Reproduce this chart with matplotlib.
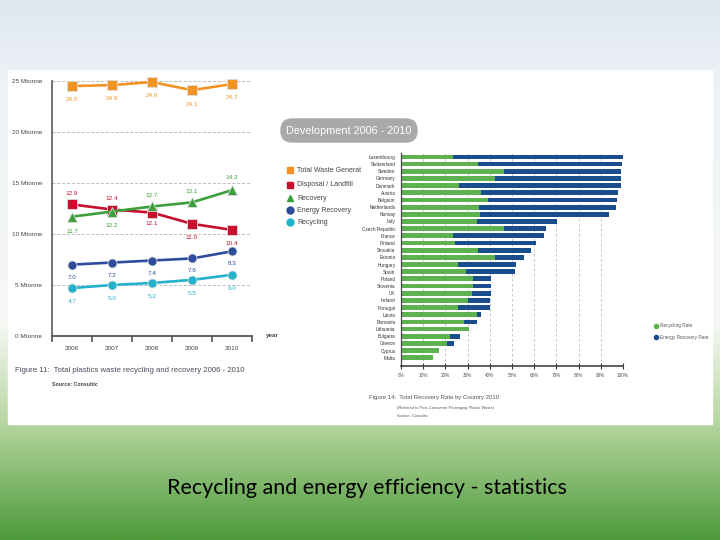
import numpy as np
import matplotlib
matplotlib.use('Agg')
import matplotlib.pyplot as plt
from matplotlib.patches import FancyBboxPatch, Rectangle
from matplotlib.colors import LinearSegmentedColormap

plt.rcParams['font.family'] = ['Liberation Sans', 'DejaVu Sans']

W, H = 720, 540

# line chart data (Mtonne)
years = ['2006', '2007', '2008', '2009', '2010']
total_waste = [24.5, 24.6, 24.9, 24.1, 24.7]
landfill = [12.9, 12.4, 12.1, 11.0, 10.4]
recovery = [11.7, 12.2, 12.7, 13.1, 14.3]
energy_rec = [7.0, 7.2, 7.4, 7.6, 8.3]
recycling = [4.7, 5.0, 5.2, 5.5, 6.0]

# bar chart data (%)
countries = ['Luxembourg', 'Switzerland', 'Sweden', 'Germany', 'Denmark', 'Austria',
             'Belgium', 'Netherlands', 'Norway', 'Italy', 'Czech Republic', 'France',
             'Finland', 'Slovakia', 'Estonia', 'Hungary', 'Spain', 'Poland', 'Slovenia',
             'UK', 'Ireland', 'Portugal', 'Latvia', 'Romania', 'Lithuania', 'Bulgaria',
             'Greece', 'Cyprus', 'Malta']
recycling_rate = [23.6, 34.6, 46.6, 42.4, 26.2, 35.9, 39.4, 35.2, 35.6, 34.4, 46.6, 23.6,
                  24.5, 34.6, 42.4, 25.6, 29.2, 32.5, 32.6, 31.9, 30.1, 25.6, 34.1, 28.6,
                  30.7, 22.1, 20.7, 17.1, 14.6]
total_rate = [100.0, 99.5, 99.2, 99.1, 98.9, 97.7, 97.4, 96.8, 93.7, 70.2, 65.4, 64.5,
              60.9, 58.5, 55.5, 52.0, 51.2, 40.7, 40.6, 40.5, 40.3, 40.3, 35.9, 34.1,
              30.7, 26.6, 23.9, 17.1, 14.6]
energy_rate = [t - r for t, r in zip(total_rate, recycling_rate)]


def px_axes(fig, x0, y0, x1, y1):
    return fig.add_axes([x0 / W, 1 - y1 / H, (x1 - x0) / W, (y1 - y0) / H])


fig = plt.figure(figsize=(7.2, 5.4), dpi=100)

# slide background + white picture panel
ov = fig.add_axes([0, 0, 1, 1], zorder=0)
ov.set_xlim(0, W)
ov.set_ylim(H, 0)
ov.axis('off')
cmap = LinearSegmentedColormap.from_list('bg', [(0.0, '#dfe7f1'), (0.15, '#eef2f7'),
                                                (0.6, '#f6f8f4'), (0.78, '#b8d7a2'),
                                                (1.0, '#4e9a3a')])
grad = np.linspace(0, 1, 256).reshape(-1, 1)
ov.imshow(grad, extent=(0, W, H, 0), aspect='auto', cmap=cmap)
ov.add_patch(Rectangle((8, 70), 704, 354, color='white', zorder=1))

# title box
ov.add_patch(FancyBboxPatch((281, 119), 136, 23, boxstyle='round,pad=0,rounding_size=11',
                            color='#a9a9a9', zorder=2))
ov.text(349, 130.5, 'Development 2006 - 2010', color='white', fontsize=7.8,
        ha='center', va='center', zorder=3)

colors = ['#f39323', '#c8102e', '#3c9e3c', '#2e4c99', '#22b2cc']
markers = ['s', 's', '^', 'o', 'o']
names = ['Total Waste Generat', 'Disposal / Landfill', 'Recovery', 'Energy Recovery', 'Recycling']

# legend of the line chart
leg_y = [170, 185, 198, 210, 222]
for c, m, n, yy in zip(colors, markers, names, leg_y):
    ov.plot(290, yy, marker=m, color=c, markersize=5, zorder=3)
    ov.text(297, yy, n, fontsize=5, color='#444444', va='center', zorder=3)

# legend of the bar chart
ov.plot(656, 326, 'o', color='#5db14e', markersize=3, zorder=3)
ov.text(660, 326, 'Recycling Rate', fontsize=3.4, color='#555555', va='center', zorder=3)
ov.plot(656, 337, 'o', color='#1a4d8b', markersize=3, zorder=3)
ov.text(660, 337, 'Energy Recovery Rate', fontsize=3.4, color='#555555', va='center', zorder=3)

# captions
ov.text(15, 371, 'Figure 11:  Total plastics waste recycling and recovery 2006 - 2010',
        fontsize=5.6, color='#4a4a5a', va='center', zorder=3)
ov.text(52, 385, 'Source: Consultic', fontsize=3.8, color='#444444', fontweight='bold',
        va='center', zorder=3)
ov.text(369, 398, 'Figure 14:  Total Recovery Rate by Country 2010', fontsize=4.3,
        color='#555555', va='center', zorder=3)
ov.text(397, 408, '(Referred to Post-Consumer Packaging Plastic Waste)', fontsize=2.9,
        color='#555555', va='center', zorder=3)
ov.text(397, 416, 'Source: Consultic', fontsize=2.9, color='#555555', va='center', zorder=3)

ov.text(367, 488, 'Recycling and energy efficiency - statistics', fontsize=15.5,
        family=['Lato', 'DejaVu Sans'], color='black', ha='center', va='center', zorder=3)

# ---------------- line chart ----------------
ax1 = px_axes(fig, 52, 81, 252, 336)
ax1.set_zorder(2)
ax1.patch.set_alpha(0)
ax1.set_xlim(-0.5, 4.5)
ax1.set_ylim(0, 25)
for s in ['top', 'right']:
    ax1.spines[s].set_visible(False)
ax1.spines['left'].set_color('#666666')
ax1.spines['left'].set_linewidth(1.3)
ax1.spines['bottom'].set_color('#555555')
ax1.spines['bottom'].set_linewidth(1.3)
ax1.hlines([5, 10, 15, 20, 25], -0.5, 4.5, colors='#bbbbbb', linestyles=(0, (3, 2)),
           linewidth=0.7, zorder=0)
ax1.set_yticks([0, 5, 10, 15, 20, 25])
ax1.set_yticklabels([f'{v} Mtonne' for v in [0, 5, 10, 15, 20, 25]])
ax1.tick_params(axis='y', length=0, pad=7, labelsize=4.6, labelcolor='#444444')
ax1.set_xticks(range(5))
ax1.set_xticklabels(years)
ax1.tick_params(axis='x', which='major', length=0, pad=7, labelsize=4.6, labelcolor='#444444')
ax1.set_xticks(np.arange(-0.5, 5, 1), minor=True)
ax1.tick_params(axis='x', which='minor', length=4, width=1.2, color='#555555', direction='out')
ax1.text(4.85, 0, 'year', fontsize=4.6, color='#444444', fontweight='bold', va='center',
         clip_on=False)

series = [total_waste, landfill, recovery, energy_rec, recycling]
offsets = [
    [-10, -10, -10, -10, -10],
    [8, 8, -8, -10, -10],
    [-11, -10, 8, 8, 9],
    [-9, -9, -9, -9, -9],
    [-10, -10, -10, -10, -10],
]
for vals, c, m, offs in zip(series, colors, markers, offsets):
    ax1.plot(range(5), vals, color=c, linewidth=1.9, marker=m, markersize=6.5,
             markeredgecolor='#dddddd', markeredgewidth=0.6, clip_on=False, zorder=3)
    for i, (v, o) in enumerate(zip(vals, offs)):
        ax1.annotate(f'{v:.1f}', (i, v), xytext=(0, o), textcoords='offset points',
                     ha='center', va='center', fontsize=4.6, color=c,
                     annotation_clip=False)

# ---------------- bar chart ----------------
ax2 = px_axes(fig, 401, 153, 623, 366)
ax2.set_zorder(2)
ax2.patch.set_alpha(0)
ypos = np.arange(len(countries))
ax2.barh(ypos, recycling_rate, height=0.66, color='#5db14e', zorder=2)
ax2.barh(ypos, energy_rate, left=recycling_rate, height=0.66, color='#1a4d8b', zorder=2)
ax2.set_xlim(0, 100)
ax2.set_ylim(29.15, -0.55)
ax2.set_yticks(ypos)
ax2.set_yticklabels(countries)
ax2.tick_params(axis='y', length=0, pad=4, labelsize=3.4, labelcolor='#333333')
ax2.set_xticks(range(0, 101, 10))
ax2.set_xticklabels([f'{v}%' for v in range(0, 101, 10)])
ax2.tick_params(axis='x', length=4, width=0.8, direction='inout', color='#333333',
                labelsize=3.4, labelcolor='#555555', pad=3)
ax2.grid(axis='x', linestyle=(0, (3, 3)), color='#bbbbbb', linewidth=0.6)
ax2.set_axisbelow(True)
for s in ['top', 'right']:
    ax2.spines[s].set_visible(False)
ax2.spines['left'].set_color('#444444')
ax2.spines['left'].set_linewidth(0.9)
ax2.spines['bottom'].set_color('#444444')
ax2.spines['bottom'].set_linewidth(1.2)

fig.savefig('out.png', dpi=100)
